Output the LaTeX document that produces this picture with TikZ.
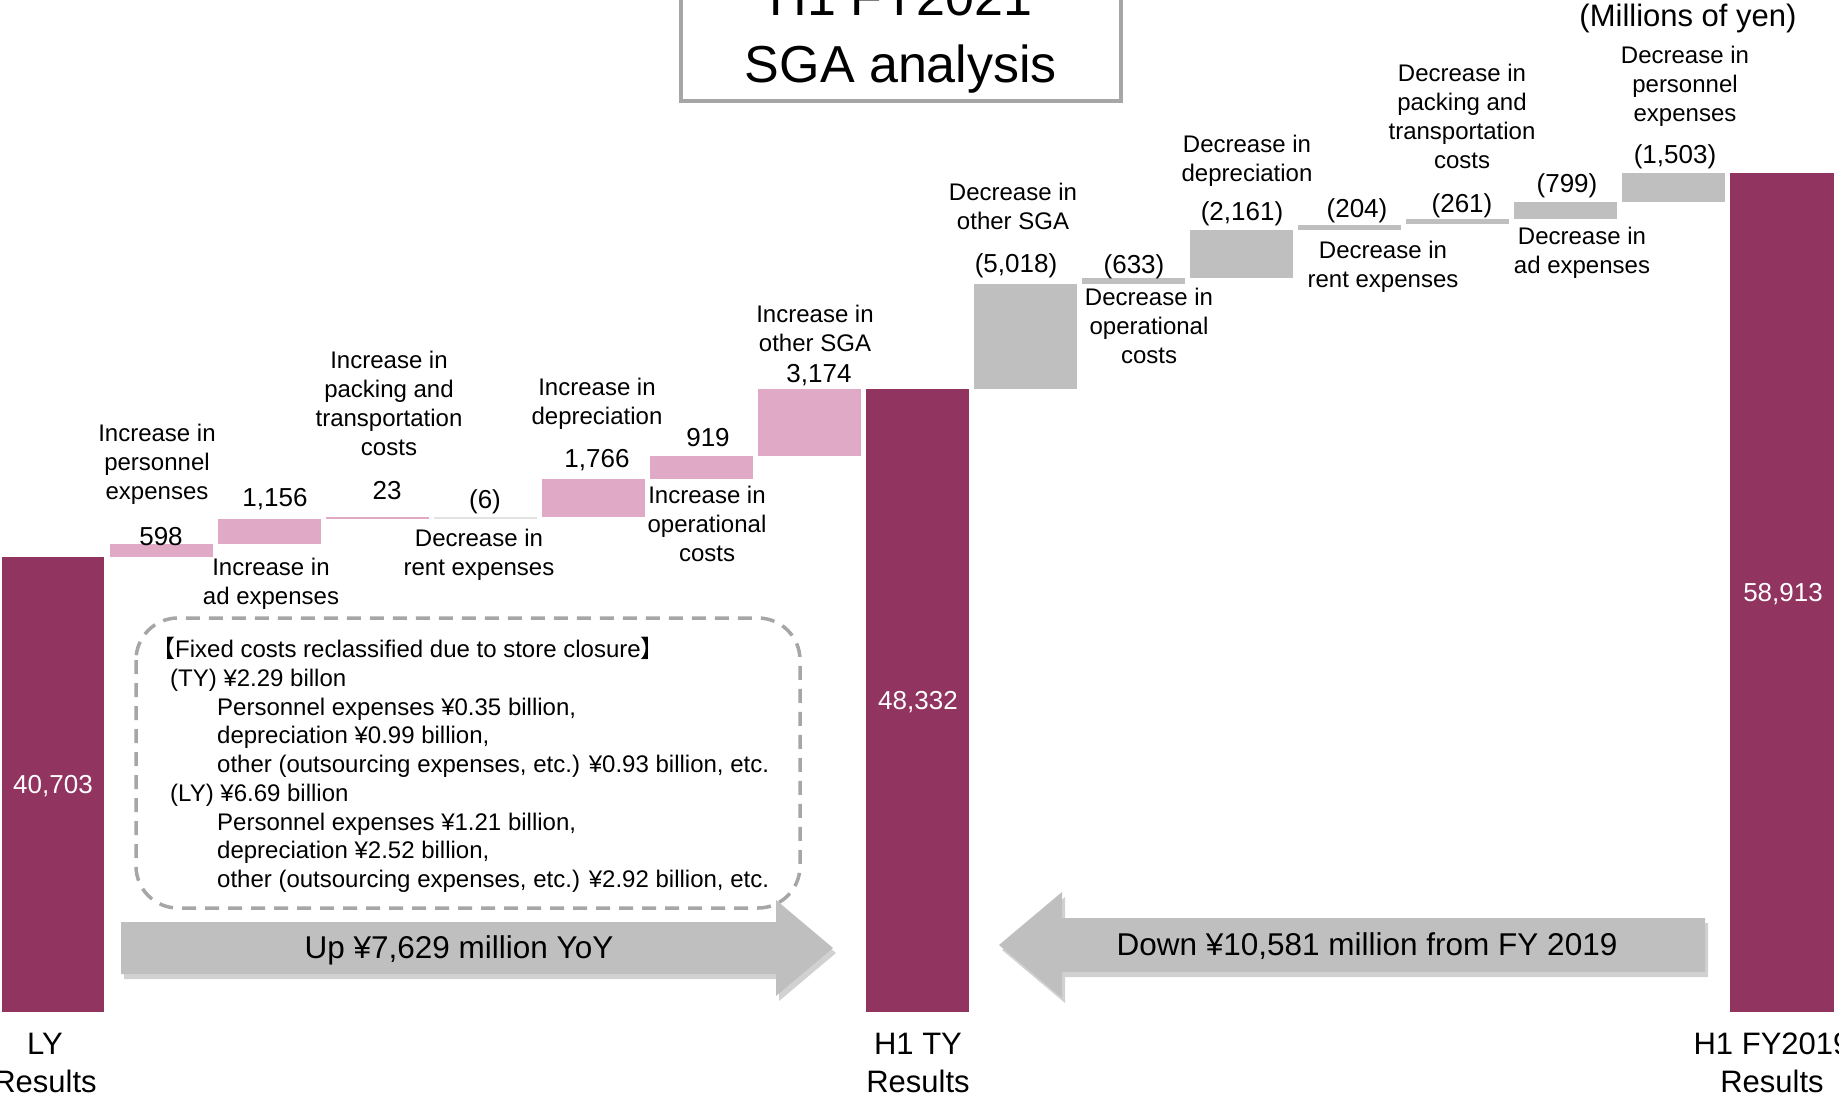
\documentclass[tikz,border=0pt]{standalone}
\usepackage{fontspec}
\setmainfont{Liberation Sans}
\newfontfamily\cjkfont{Noto Sans CJK JP}
\usepackage{tikz}
\usetikzlibrary{positioning}
\definecolor{sgapurple}{HTML}{913460}
\definecolor{sgapink}{HTML}{E0A9C5}
\definecolor{sgagray}{HTML}{BFBFBF}
\definecolor{sgaline}{HTML}{A6A6A6}

\begin{document}
\begin{tikzpicture}[
    x=1pt,y=-1pt,
    tot/.style    = {fill=sgapurple},
    inc/.style    = {fill=sgapink},
    dec/.style    = {fill=sgagray},
    lbl/.style    = {align=center, inner sep=0pt, font=\fontsize{24}{29}\selectfont},
    val/.style    = {inner sep=0pt, font=\fontsize{26}{31}\selectfont},
    totval/.style = {val, text=white},
    axlbl/.style  = {align=center, inner sep=0pt, font=\fontsize{31}{38}\selectfont},
    note/.style   = {align=left, inner sep=0pt, font=\fontsize{24}{28.7}\selectfont},
    cadre/.style  = {draw=sgaline, line width=3.5pt, dash pattern=on 14pt off 9pt,
                     rounded corners=42pt},
    fleche/.style = {fill=sgagray},
    ombre/.style  = {fill=black, opacity=0.18},
    fltxt/.style  = {inner sep=0pt, font=\fontsize{31.5}{37}\selectfont},
  ]
  \useasboundingbox (0,0) rectangle (1839,1096);

  % title box
  \draw[sgaline, line width=4pt] (681,-40) rectangle (1121,101);
  \node[inner sep=0pt, anchor=base, font=\fontsize{52}{65}\selectfont] (titre1) at (901,15) {H1 FY2021};
  \node[inner sep=0pt, anchor=base, font=\fontsize{52}{65}\selectfont] (titre2) at (901,82) {SGA analysis};
  \node[inner sep=0pt, font=\fontsize{31}{38}\selectfont] (unite) at (1688,18) {(Millions of yen)};

  % bars
  \fill[tot] (2,557)    rectangle (104,1012);
  \fill[inc] (110,544)  rectangle (213,557);
  \fill[inc] (218,519)  rectangle (321,544);
  \fill[inc] (326,517)  rectangle (429,519);
  \fill[sgagray!45] (434,517) rectangle (537,519);
  \fill[inc] (542,479)  rectangle (645,517);
  \fill[inc] (650,456)  rectangle (753,479);
  \fill[inc] (758,389)  rectangle (861,456);
  \fill[tot] (866,389)  rectangle (969,1012);
  \fill[dec] (974,284)  rectangle (1077,389);
  \fill[dec] (1082,278) rectangle (1185,284);
  \fill[dec] (1190,230) rectangle (1293,278);
  \fill[dec] (1298,225) rectangle (1401,230);
  \fill[dec] (1406,219) rectangle (1509,224);
  \fill[dec] (1514,202) rectangle (1617,219);
  \fill[dec] (1622,173) rectangle (1725,202);
  \fill[tot] (1730,173) rectangle (1834,1012);

  % values
  \node[totval] (vly)  at (53,786)   {40,703};
  \node[val]    (v1)   at (161,537)  {598};
  \node[val]    (v2)   at (275,499)  {1,156};
  \node[val]    (v3)   at (387,491)  {23};
  \node[val]    (v4)   at (485,502)  {(6)};
  \node[val]    (v5)   at (597,460)  {1,766};
  \node[val]    (v6)   at (708,438)  {919};
  \node[val]    (v7)   at (819,375)  {3,174};
  \node[totval] (vty)  at (918,702)  {48,332};
  \node[val]    (v9)   at (1016,266) {(5,018)};
  \node[val]    (v10)  at (1134,267) {(633)};
  \node[val]    (v11)  at (1242,214) {(2,161)};
  \node[val]    (v12)  at (1357,211) {(204)};
  \node[val]    (v13)  at (1462,206) {(261)};
  \node[val]    (v14)  at (1567,186) {(799)};
  \node[val]    (v15)  at (1675,157) {(1,503)};
  \node[totval] (vfy)  at (1783,594) {58,913};

  % item labels
  \node[lbl] (l1)  at (157,464)  {Increase in\\personnel\\expenses};
  \node[lbl] (l2)  at (271,584)  {Increase in\\ad expenses};
  \node[lbl] (l3)  at (389,403)  {Increase in\\packing and\\transportation\\costs};
  \node[lbl] (l4)  at (479,555)  {Decrease in\\rent expenses};
  \node[lbl] (l5)  at (597,404)  {Increase in\\depreciation};
  \node[lbl] (l6)  at (707,524)  {Increase in\\operational\\costs};
  \node[lbl] (l7)  at (815,328)  {Increase in\\other SGA};
  \node[lbl] (l9)  at (1013,206) {Decrease in\\other SGA};
  \node[lbl] (l10) at (1149,326) {Decrease in\\operational\\costs};
  \node[lbl] (l11) at (1247,161) {Decrease in\\depreciation};
  \node[lbl] (l12) at (1383,267) {Decrease in\\rent expenses};
  \node[lbl] (l13) at (1462,116) {Decrease in\\packing and\\transportation\\costs};
  \node[lbl] (l14) at (1582,253) {Decrease in\\ad expenses};
  \node[lbl] (l15) at (1685,86)  {Decrease in\\personnel\\expenses};

  % axis labels
  \node[axlbl] (aly) at (45,1063)   {LY\\Results};
  \node[axlbl] (aty) at (918,1063)  {H1 TY\\Results};
  \node[axlbl] (afy) at (1772,1063) {H1 FY2019\\Results};

  % reclassification note
  \draw[cadre] (136,618) rectangle (800,908);
  \node[note, anchor=west] (fixe) at (170,765)
       {\hspace*{-19pt}{\cjkfont 【}Fixed costs reclassified due to store closure{\cjkfont 】}\\
        (TY) ¥2.29 billon\\
        \hspace*{47pt}Personnel expenses ¥0.35 billion,\\
        \hspace*{47pt}depreciation ¥0.99 billion,\\
        \hspace*{47pt}other (outsourcing expenses, etc.) ¥0.93 billion, etc.\\
        (LY) ¥6.69 billion\\
        \hspace*{47pt}Personnel expenses ¥1.21 billion,\\
        \hspace*{47pt}depreciation ¥2.52 billion,\\
        \hspace*{47pt}other (outsourcing expenses, etc.) ¥2.92 billion, etc.};

  % arrows
  \fill[ombre] (124,927) -- (779,927) -- (779,905) -- (836,953) -- (779,1001)
               -- (779,979) -- (124,979) -- cycle;
  \fill[fleche] (121,922) -- (776,922) -- (776,900) -- (833,948) -- (776,996)
               -- (776,974) -- (121,974) -- cycle;
  \node[fltxt] (hausse) at (459,950) {Up ¥7,629 million YoY};

  \fill[ombre] (1708,923) -- (1065,923) -- (1065,897) -- (1002,950) -- (1065,1003)
               -- (1065,977) -- (1708,977) -- cycle;
  \fill[fleche] (1705,918) -- (1062,918) -- (1062,892) -- (999,945) -- (1062,998)
               -- (1062,972) -- (1705,972) -- cycle;
  \node[fltxt] (baisse) at (1367,946) {Down ¥10,581 million from FY 2019};

\end{tikzpicture}
\end{document}
